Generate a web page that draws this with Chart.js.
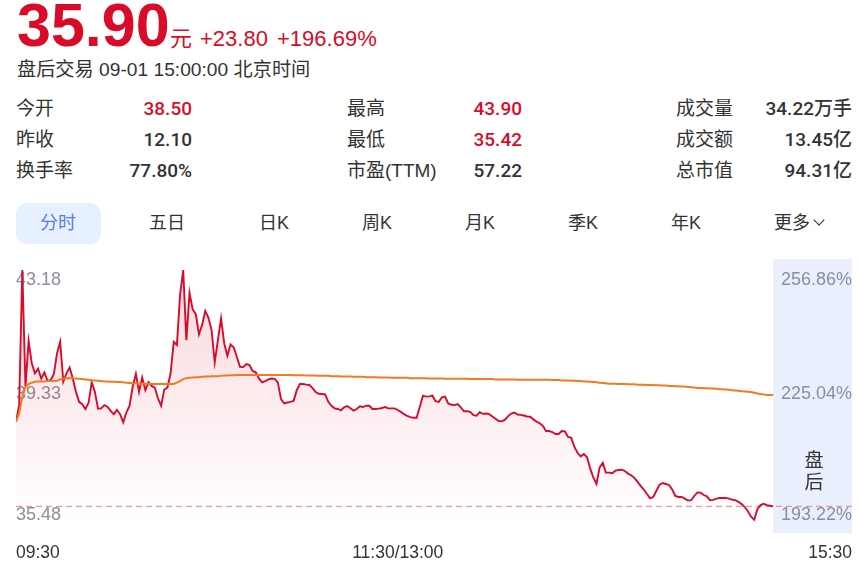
<!DOCTYPE html>
<html lang="zh-CN">
<head>
<meta charset="utf-8">
<script src="https://cdn.jsdelivr.net/npm/chart.js@4"></script>
<style>
html,body{margin:0;padding:0;background:#fff;width:860px;height:569px;overflow:hidden}
body{position:relative;font-family:"Liberation Sans","Noto Sans CJK SC",sans-serif;color:#333}
.t{position:absolute;white-space:nowrap;line-height:1}
.cn{font-family:"Liberation Sans","Noto Sans CJK SC",sans-serif;font-size:19px;color:#333}
.v{font-family:Roboto,"Noto Sans CJK SC",sans-serif;font-size:19px;font-weight:500;color:#333}
.red{color:#d90b28}
#pill{position:absolute;left:16px;top:203px;width:85px;height:41px;background:#e6f0ff;border-radius:11px}
#chev{position:absolute;left:815px;top:216px;width:7px;height:7px;border-right:1.4px solid #333;border-bottom:1.4px solid #333;transform:rotate(45deg)}
#c{position:absolute;left:16px;top:259px}
</style>
</head>
<body>
<div class="t red" style="left:17px;top:-5px;font-size:61px;font-weight:700">35.90</div>
<div class="t red" style="left:170px;top:28px;font-size:22px">元</div>
<div class="t red" style="left:200px;top:28px;font-size:22px">+23.80</div>
<div class="t red" style="left:277px;top:28px;font-size:22px">+196.69%</div>
<div class="t cn" style="left:17px;top:60px;font-size:19.2px">盘后交易 09-01 15:00:00 北京时间</div>
<div id="stats"></div>
<div id="pill"></div>
<div id="tabs"></div>
<div id="chev"></div>
<canvas id="c" width="836" height="306"></canvas>
<div class="t" style="left:804px;top:450px;font-size:19px;color:#333;line-height:22px;width:20px;text-align:center;white-space:normal">盘<br>后</div>
<script>
const statLabels=[["今开","昨收","换手率"],["最高","最低","市盈(TTM)"],["成交量","成交额","总市值"]];
const statValues=[["38.50","12.10","77.80%"],["43.90","35.42","57.22"],["34.22万手","13.45亿","94.31亿"]];
const statRed=[[true,false,false],[true,true,false],[false,false,false]];
const statLeft=[16,347,676];
const statRight=[192,522,852];
const rowY=[99,130,161];
const tabNames=["分时","五日","日K","周K","月K","季K","年K","更多"];
const tabCenters=[58,167,274,377,480,583,686,792];

const prices=[
38.51,39.02,43.18,39.59,41.00,40.31,40.00,40.14,39.84,40.03,
39.77,39.79,39.98,40.61,40.97,39.74,40.00,40.18,39.84,39.43,
39.12,39.05,38.90,39.09,39.72,39.43,38.91,38.92,39.02,38.97,
38.84,38.74,38.87,38.74,38.49,38.80,39.00,39.59,39.98,39.43,
39.87,39.48,39.73,39.61,39.56,39.23,39.00,39.50,39.56,40.00,
40.97,40.87,42.41,43.18,41.02,42.48,41.97,41.82,41.20,41.49,
41.92,41.71,41.33,40.34,41.02,41.69,40.92,40.54,40.89,40.80,
40.51,40.20,40.19,40.28,40.25,40.07,40.03,39.84,39.72,39.76,
39.81,39.84,39.83,39.72,39.21,39.07,39.10,39.12,39.15,39.48,
39.67,39.67,39.65,39.64,39.54,39.42,39.37,39.36,39.35,39.12,
39.00,38.92,38.90,38.86,38.95,38.99,38.92,38.85,38.90,38.98,
38.96,39.00,39.00,38.90,38.90,38.91,38.93,38.96,38.92,38.92,
38.92,38.87,38.81,38.74,38.69,38.65,38.63,38.63,38.97,39.31,
39.28,39.29,39.31,39.14,39.12,39.26,39.28,39.07,39.03,39.02,
39.05,38.95,38.83,38.83,38.81,38.71,38.69,38.80,38.75,
38.76,38.74,38.67,38.60,38.53,38.52,38.57,38.68,38.76,38.79,
38.73,38.72,38.70,38.67,38.66,38.58,38.51,38.46,38.38,38.22,
38.22,38.19,38.13,38.13,38.22,38.21,38.04,38.01,37.73,37.55,
37.44,37.51,37.41,37.07,36.79,36.59,37.10,37.24,36.94,36.94,
36.92,37.00,37.02,37.03,36.99,36.91,36.86,36.78,36.66,36.53,
36.42,36.28,36.15,36.19,36.38,36.57,36.62,36.59,36.56,36.42,
36.22,36.19,36.19,36.14,36.08,36.09,36.22,36.33,36.32,36.25,
36.21,36.09,36.10,36.14,36.16,36.16,36.16,36.14,36.11,36.09,
36.04,35.97,35.88,35.75,35.58,35.49,35.81,35.94,35.98,35.94,
35.92,35.90];
const averages=[
38.51,38.77,39.28,39.57,39.67,39.71,39.74,39.75,39.75,39.75,
39.76,39.76,39.76,39.77,39.81,39.84,39.85,39.85,39.85,39.84,
39.83,39.82,39.81,39.80,39.78,39.78,39.77,39.76,39.75,39.75,
39.74,39.74,39.73,39.73,39.72,39.71,39.70,39.69,39.69,39.68,
39.68,39.68,39.68,39.67,39.67,39.67,39.67,39.67,39.67,39.67,
39.67,39.71,39.76,39.82,39.85,39.86,39.87,39.88,39.88,39.89,
39.90,39.90,39.91,39.91,39.91,39.92,39.93,39.93,39.94,39.94,
39.95,39.95,39.95,39.95,39.95,39.95,39.95,39.95,39.95,39.95,
39.95,39.95,39.95,39.95,39.95,39.95,39.95,39.95,39.94,39.94,
39.94,39.94,39.93,39.93,39.93,39.93,39.92,39.92,39.92,39.92,
39.91,39.91,39.91,39.90,39.90,39.90,39.90,39.89,39.89,39.89,
39.89,39.88,39.88,39.88,39.88,39.87,39.87,39.87,39.87,39.86,
39.86,39.86,39.86,39.86,39.86,39.85,39.85,39.85,39.85,39.85,
39.85,39.84,39.84,39.84,39.84,39.84,39.83,39.83,39.83,39.83,
39.83,39.83,39.83,39.83,39.82,39.82,39.82,39.82,39.82,39.82,
39.82,39.82,39.81,39.81,39.81,39.81,39.81,39.81,39.81,39.80,
39.80,39.80,39.80,39.80,39.80,39.80,39.80,39.80,39.80,39.80,
39.79,39.79,39.79,39.78,39.78,39.78,39.77,39.77,39.76,39.76,
39.75,39.75,39.74,39.73,39.72,39.71,39.70,39.69,39.68,39.68,
39.68,39.67,39.67,39.67,39.66,39.66,39.66,39.65,39.65,39.65,
39.64,39.64,39.64,39.63,39.63,39.62,39.62,39.61,39.61,39.60,
39.60,39.59,39.59,39.58,39.57,39.56,39.55,39.55,39.54,39.54,
39.53,39.53,39.52,39.51,39.51,39.50,39.49,39.48,39.47,39.46,
39.45,39.44,39.43,39.42,39.40,39.38,39.36,39.35,39.33,39.33,
39.33];
const lastPrice=35.90;
const priceTicks=[43.18,39.33,35.48];
const percentTicks=[256.86,225.04,193.22];
const previousClose=12.10;
const xTickIndex=[0,121,265];
const xTickText=["09:30","11:30/13:00","15:30"];
const regularPoints=241;
const totalPoints=266;

function add(parent,cls,text,css){const d=document.createElement('div');d.className='t '+cls;d.textContent=text;d.style.cssText=css;parent.appendChild(d);}
const S=document.getElementById('stats');
statLabels.forEach((col,c)=>col.forEach((lab,r)=>{
  add(S,'cn',lab,`left:${statLeft[c]}px;top:${rowY[r]}px`);
  add(S,'v'+(statRed[c][r]?' red':''),statValues[c][r],`right:${860-statRight[c]}px;top:${rowY[r]}px`);
}));
const T=document.getElementById('tabs');
tabNames.forEach((n,i)=>add(T,'cn',n,`left:${tabCenters[i]-50}px;width:100px;text-align:center;top:214px;font-size:18px;`+(i==0?'color:#5b7bf0':'')));

const labels=Array.from({length:totalPoints},(_,i)=>{
  const m=i<=120?570+i:780+(i-120);
  return String(Math.floor(m/60)).padStart(2,'0')+':'+String(m%60).padStart(2,'0');
});
const yMin=35.08,yMax=43.52;
const labelNudge=[1,-1,4];
const panelPlugin={id:'panel',
  beforeDraw(ch){
    const {ctx,chartArea:a,scales:{x}}=ch;
    const left=x.getPixelForValue(regularPoints-1);
    ctx.save();ctx.fillStyle='#e9effd';ctx.fillRect(left,a.top,a.right-left,a.bottom-a.top);ctx.restore();
    ['y','yp'].forEach(id=>{
      const items=ch.scales[id].getLabelItems(ch.chartArea);
      if(items.length===3){
        items[0].options.textBaseline='top';items[2].options.textBaseline='bottom';
        items.forEach((it,i)=>{
          if(!it.nudged){it.options.translation=[it.options.translation[0],it.options.translation[1]+labelNudge[i]];it.nudged=true;}
        });
      }
    });
  }
};
const canvas=document.getElementById('c');
const grad=canvas.getContext('2d').createLinearGradient(0,0,0,262);
grad.addColorStop(0,'rgba(217,11,40,0.17)');
grad.addColorStop(1,'rgba(217,11,40,0)');
new Chart(canvas,{
  type:'line',
  data:{labels,datasets:[
    {label:'均价',data:averages,borderColor:'#f47a1f',borderWidth:2,pointRadius:0,tension:0,fill:false,yAxisID:'y'},
    {label:'价格',data:prices,borderColor:'#d90b2c',borderWidth:1.9,pointRadius:0,tension:0,fill:{target:'start'},backgroundColor:grad,yAxisID:'y'},
    {label:'现价',data:[{x:labels[0],y:lastPrice},{x:labels[totalPoints-1],y:lastPrice}],borderColor:'rgba(238,120,130,0.75)',borderWidth:1.3,borderDash:[6,4],pointRadius:0,fill:false,yAxisID:'y'}
  ]},
  plugins:[panelPlugin],
  options:{
    responsive:false,animation:false,devicePixelRatio:1,
    layout:{padding:0,autoPadding:false},
    plugins:{legend:{display:false},tooltip:{enabled:false}},
    scales:{
      x:{type:'category',grid:{display:false,drawTicks:false},border:{display:false},
        afterBuildTicks(s){s.ticks=xTickIndex.map(v=>({value:v}));},
        afterFit(s){s.height=32;s.paddingLeft=0;s.paddingRight=0;},
        ticks:{autoSkip:false,maxRotation:0,minRotation:0,align:'inner',padding:10,color:'#333',font:{family:'"Liberation Sans"',size:17.5},
          callback(v){return xTickText[xTickIndex.indexOf(v)];}}},
      y:{type:'linear',position:'left',min:yMin,max:yMax,grid:{display:false,drawTicks:false},border:{display:false},
        afterBuildTicks(s){s.ticks=priceTicks.map(v=>({value:v}));},
        afterFit(s){s.paddingTop=0;s.paddingBottom=0;},
        ticks:{mirror:true,padding:0,color:'#8a8f9e',font:{family:'"Liberation Sans"',size:18},callback(v){return v.toFixed(2);}}},
      yp:{type:'linear',position:'right',min:yMin/previousClose*100-100,max:yMax/previousClose*100-100,grid:{display:false,drawTicks:false},border:{display:false},
        afterBuildTicks(s){s.ticks=percentTicks.map(v=>({value:v}));},
        afterFit(s){s.paddingTop=0;s.paddingBottom=0;},
        ticks:{mirror:true,padding:0,color:'#8a8f9e',font:{family:'"Liberation Sans"',size:18},callback(v){return v.toFixed(2)+'%';}}}
    }
  }
});
</script>
</body>
</html>
